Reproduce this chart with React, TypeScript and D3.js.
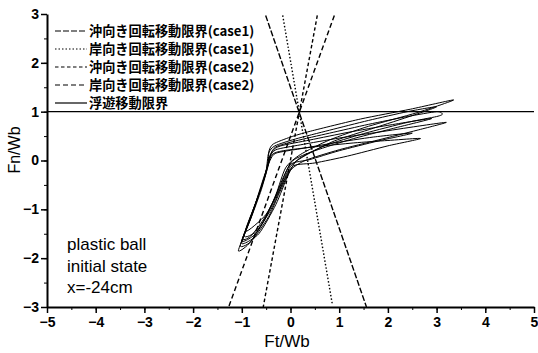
import { useRef, useEffect } from "react";
import * as d3 from "d3";

type Pt = [number, number];

// axis ticks
const xTicks = [-5, -4, -3, -2, -1, 0, 1, 2, 3, 4, 5];
const yTicks = [-3, -2, -1, 0, 1, 2, 3];

// legend labels (same order as limitLines)
const legendLabels = [
  "沖向き回転移動限界(case1)",
  "岸向き回転移動限界(case1)",
  "沖向き回転移動限界(case2)",
  "岸向き回転移動限界(case2)",
  "浮遊移動限界",
];

// limit lines: [top point, bottom point] in Ft/Wb, Fn/Wb
const limitLines: Pt[][] = [
  [[-0.51, 2.97], [1.56, -3]],
  [[-0.16, 2.97], [0.86, -2.95]],
  [[0.55, 2.97], [-0.56, -3]],
  [[0.9, 2.97], [-1.27, -3]],
];
const floatLimit = 1.0;

// measured force loops (Ft/Wb, Fn/Wb)
const loop1: Pt[] = [
  [-1.07, -1.85], [-0.9, -1.4], [-0.72, -0.9], [-0.55, -0.4], [-0.46, -0.05],
  [-0.44, 0.2], [-0.35, 0.34], [0.0, 0.48], [0.41, 0.6], [1.44, 0.85],
  [2.46, 1.05], [3.35, 1.24], [2.6, 0.98], [1.6, 0.7], [0.8, 0.42],
  [0.2, 0.12], [-0.1, -0.15], [-0.3, -0.7], [-0.55, -1.25], [-0.85, -1.7],
];
const loop2: Pt[] = [
  [-1.0, -1.7], [-0.82, -1.2], [-0.65, -0.7], [-0.5, -0.25], [-0.42, 0.1],
  [-0.3, 0.28], [0.1, 0.4], [0.8, 0.56], [1.6, 0.74], [2.4, 0.9],
  [3.0, 1.0], [3.12, 0.95], [3.0, 0.9], [2.4, 0.78], [1.5, 0.55],
  [0.7, 0.3], [0.15, 0.02], [-0.05, -0.3], [-0.3, -0.9], [-0.65, -1.5],
];
const loop3: Pt[] = [
  [-1.03, -1.75], [-0.85, -1.25], [-0.66, -0.72], [-0.52, -0.3], [-0.44, 0.05],
  [-0.3, 0.22], [0.2, 0.32], [1.0, 0.46], [1.8, 0.58], [2.6, 0.7],
  [3.2, 0.78], [2.6, 0.62], [1.8, 0.42], [1.0, 0.22], [0.3, 0.0],
  [0.0, -0.2], [-0.2, -0.6], [-0.45, -1.15], [-0.8, -1.65],
];
const loop4: Pt[] = [
  [-0.95, -1.55], [-0.78, -1.05], [-0.6, -0.55], [-0.48, -0.15], [-0.38, 0.12],
  [-0.15, 0.2], [0.5, 0.28], [1.3, 0.36], [2.0, 0.41], [2.67, 0.45],
  [2.0, 0.3], [1.17, 0.09], [0.5, -0.05], [0.06, -0.11], [-0.15, -0.45],
  [-0.4, -1.0], [-0.7, -1.45],
];
const loop5: Pt[] = [
  [-0.98, -1.6], [-0.8, -1.1], [-0.62, -0.6], [-0.5, -0.2], [-0.45, 0.15],
  [-0.32, 0.3], [0.1, 0.44], [0.8, 0.62], [1.6, 0.82], [2.4, 1.0],
  [3.0, 1.1], [2.5, 0.92], [1.7, 0.66], [0.9, 0.4], [0.3, 0.1],
  [0.0, -0.12], [-0.25, -0.65], [-0.55, -1.2], [-0.82, -1.55],
];
const loop6: Pt[] = [
  [-0.92, -1.45], [-0.72, -0.88], [-0.55, -0.35], [-0.42, 0.0], [-0.3, 0.15],
  [0.2, 0.24], [0.9, 0.36], [1.7, 0.48], [2.5, 0.56], [1.8, 0.4],
  [1.0, 0.2], [0.4, 0.02], [0.0, -0.08], [-0.2, -0.5], [-0.5, -1.1],
];
const loop7: Pt[] = [
  [-1.0, -1.65], [-0.8, -1.15], [-0.6, -0.6], [-0.47, -0.15], [-0.38, 0.18],
  [-0.2, 0.3], [0.4, 0.42], [1.2, 0.58], [2.0, 0.72], [2.9, 0.86],
  [2.2, 0.68], [1.3, 0.45], [0.5, 0.2], [0.05, 0.0], [-0.15, -0.35],
  [-0.4, -0.95], [-0.72, -1.5],
];
const loops = [loop1, loop2, loop3, loop4, loop5, loop6, loop7];

const dashes = ["6,2", "1.5,2", "3.5,2.5", "5,3"];

const App = () => {
  const ref = useRef<SVGSVGElement>(null);

  useEffect(() => {
    if (!ref.current) return;
    const svg = d3.select(ref.current);
    svg.selectAll("*").remove();

    const x = d3.scaleLinear().domain([-5, 5]).range([47, 534]);
    const y = d3.scaleLinear().domain([-3, 3]).range([307, 14]);
    const font = "'Liberation Sans', Arial, sans-serif";

    // axes
    const xAxis = svg.append("g").attr("transform", `translate(0,${y(-3)})`);
    xAxis
      .call(d3.axisBottom(x).tickValues(d3.range(-5, 5.01, 0.5)).tickSize(3).tickFormat(() => ""))
      .call((g: any) => g.select(".domain").remove());
    xAxis
      .append("g")
      .call(d3.axisBottom(x).tickValues(xTicks).tickSize(6).tickSizeOuter(0).tickFormat(d3.format("d")))
      .call((g: any) => g.select(".domain").attr("stroke-width", 2))
      .call((g: any) => g.selectAll(".tick line").attr("stroke-width", 1.5))
      .call((g: any) =>
        g
          .selectAll("text")
          .attr("font-family", font)
          .attr("font-size", 14)
          .attr("font-weight", "bold")
          .attr("fill", "#000")
          .attr("dy", "0.8em")
      );

    const yAxis = svg.append("g").attr("transform", `translate(${x(-5)},0)`);
    yAxis
      .call(d3.axisLeft(y).tickValues(d3.range(-3, 3.01, 0.5)).tickSize(3).tickFormat(() => ""))
      .call((g: any) => g.select(".domain").remove());
    yAxis
      .append("g")
      .call(d3.axisLeft(y).tickValues(yTicks).tickSize(6).tickSizeOuter(0).tickFormat(d3.format("d")))
      .call((g: any) => g.select(".domain").attr("stroke-width", 2))
      .call((g: any) => g.selectAll(".tick line").attr("stroke-width", 1.5))
      .call((g: any) =>
        g
          .selectAll("text")
          .attr("font-family", font)
          .attr("font-size", 14)
          .attr("font-weight", "bold")
          .attr("fill", "#000")
          .attr("x", -8)
      );

    // float limit
    svg
      .append("line")
      .attr("x1", x(-5))
      .attr("x2", x(5))
      .attr("y1", y(floatLimit))
      .attr("y2", y(floatLimit))
      .attr("stroke", "#000")
      .attr("stroke-width", 1.3);

    // rotational limits
    const line = d3
      .line<Pt>()
      .x((d) => x(d[0]))
      .y((d) => y(d[1]));
    limitLines.forEach((pts, i) => {
      svg
        .append("path")
        .attr("d", line(pts))
        .attr("fill", "none")
        .attr("stroke", "#000")
        .attr("stroke-width", 1.4)
        .attr("stroke-dasharray", dashes[i]);
    });

    // loops
    const loopLine = d3
      .line<Pt>()
      .x((d) => x(d[0]))
      .y((d) => y(d[1]))
      .curve(d3.curveCardinalClosed.tension(0.3));
    loops.forEach((pts) => {
      svg
        .append("path")
        .attr("d", loopLine(pts))
        .attr("fill", "none")
        .attr("stroke", "#000")
        .attr("stroke-width", 1);
    });

    // legend
    const rowY = [31, 49, 67, 85, 103];
    const legendDash = [...dashes, ""];
    legendLabels.forEach((lab, i) => {
      svg
        .append("line")
        .attr("x1", 55)
        .attr("x2", 87)
        .attr("y1", rowY[i])
        .attr("y2", rowY[i])
        .attr("stroke", "#000")
        .attr("stroke-width", 1.2)
        .attr("stroke-dasharray", legendDash[i] || null);
      svg
        .append("text")
        .attr("x", 89)
        .attr("y", rowY[i])
        .attr("dy", "0.36em")
        .attr("font-family", "'Noto Sans CJK JP', sans-serif")
        .attr("font-size", 13.2)
        .attr("font-weight", "bold")
        .text(lab);
    });

    // annotation
    ["plastic ball", "initial state", "x=-24cm"].forEach((t, i) => {
      svg
        .append("text")
        .attr("x", 67)
        .attr("y", 250 + i * 21.5)
        .attr("font-family", font)
        .attr("font-size", 17)
        .text(t);
    });

    // axis titles
    svg
      .append("text")
      .attr("x", 287)
      .attr("y", 347)
      .attr("text-anchor", "middle")
      .attr("font-family", font)
      .attr("font-size", 17)
      .text("Ft/Wb");
    svg
      .append("text")
      .attr("transform", "translate(20,150) rotate(-90)")
      .attr("text-anchor", "middle")
      .attr("font-family", font)
      .attr("font-size", 16)
      .text("Fn/Wb");

    return () => {
      svg.selectAll("*").remove();
    };
  }, []);

  return (
    <svg
      ref={ref}
      width={538}
      height={353}
      style={{ position: "fixed", left: 0, top: 0, background: "#fff" }}
    />
  );
};

export default App;
